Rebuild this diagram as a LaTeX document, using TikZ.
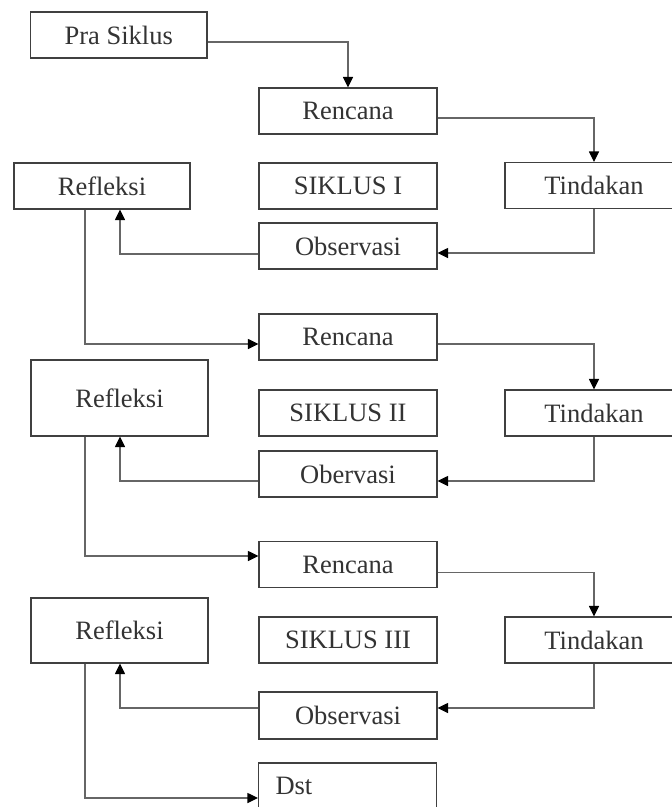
\documentclass[tikz,border=0pt]{standalone}
\usepackage{fontspec}
\setmainfont{Liberation Serif}
\usetikzlibrary{arrows.meta}
\begin{document}
\begin{tikzpicture}[x=1pt,y=-1pt,
  bx/.style={draw=black!75,line width=1.1pt,minimum width=178pt,minimum height=46pt,inner sep=0pt,
    font=\fontsize{26.5}{30}\selectfont,text=black!80},
  conn/.style={draw=black!60,line width=1.1pt,-{Triangle[length=10.5pt,width=10pt,fill=black,color=black]}}]
\useasboundingbox (0,0) rectangle (672,807);
% row 0
\node[bx,minimum width=176.5pt] (pra) at (118.75,35) {Pra Siklus};
% cycle 1
\node[bx] (ren1) at (348,111) {Rencana};
\node[bx,minimum width=176pt] (ref1) at (102,186) {Refleksi};
\node[bx] (sik1) at (348,186) {SIKLUS I};
\node[bx] (tin1) at (594,185.5) {Tindakan};
\node[bx] (obs1) at (348,246) {Observasi};
% cycle 2
\node[bx] (ren2) at (348,337) {Rencana};
\node[bx,minimum width=177pt,minimum height=76pt] (ref2) at (119.5,398) {Refleksi};
\node[bx] (sik2) at (348,413) {SIKLUS II};
\node[bx] (tin2) at (594,413) {Tindakan};
\node[bx] (obs2) at (348,474) {Obervasi};
% cycle 3
\node[bx] (ren3) at (348,564.5) {Rencana};
\node[bx,minimum width=177pt,minimum height=65pt] (ref3) at (119.5,630.5) {Refleksi};
\node[bx] (sik3) at (348,640) {SIKLUS III};
\node[bx] (tin3) at (594,640) {Tindakan};
\node[bx,minimum height=47pt] (obs3) at (348,715.5) {Observasi};
\node[bx,text width=144pt,align=left] (dst) at (347.5,786) {Dst};
% connectors
\draw[conn] ([yshift=-7pt]pra.east) -| (ren1.north);
\draw[conn] ([yshift=-7pt]ren1.east) -| (tin1.north);
\draw[conn] (tin1.south) |- ([yshift=-7pt]obs1.east);
\draw[conn] ([yshift=-8pt]obs1.west) -| ([xshift=18pt]ref1.south);
\draw[conn] ([xshift=-17pt]ref1.south) |- ([yshift=-7pt]ren2.west);
\draw[conn] ([yshift=-7pt]ren2.east) -| (tin2.north);
\draw[conn] (tin2.south) |- ([yshift=-7pt]obs2.east);
\draw[conn] ([yshift=-7pt]obs2.west) -| ([xshift=0.5pt]ref2.south);
\draw[conn] ([xshift=-34.5pt]ref2.south) |- ([yshift=8.5pt]ren3.west);
\draw[conn] ([yshift=-8pt]ren3.east) -| (tin3.north);
\draw[conn] (tin3.south) |- ([yshift=7.5pt]obs3.east);
\draw[conn] ([yshift=7.5pt]obs3.west) -| ([xshift=0.5pt]ref3.south);
\draw[conn] ([xshift=-34.5pt]ref3.south) |- ([yshift=-12pt]dst.west);
\end{tikzpicture}
\end{document}
